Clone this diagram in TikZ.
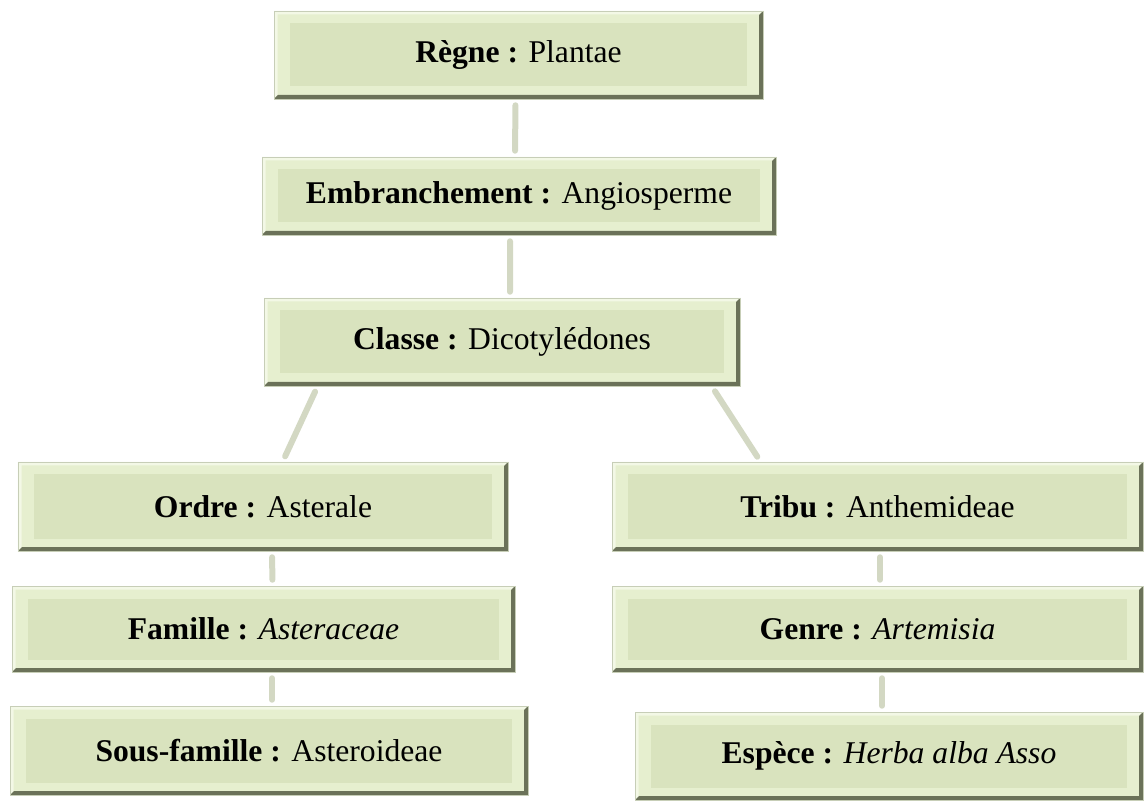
\documentclass[tikz,border=0pt]{standalone}
\usepackage{fontspec}
\setmainfont{Liberation Serif}
\usepackage{xcolor}
\usetikzlibrary{positioning, calc}
\definecolor{boxouter}{HTML}{E6EFCF}
\definecolor{boxinner}{HTML}{D9E3BE}
\definecolor{boxdark}{HTML}{6B7259}
\definecolor{boxlight}{HTML}{F3F8E6}
\definecolor{linkgray}{HTML}{D3D8C3}

\begin{document}
\begin{tikzpicture}[
    taxon/.style={fill=boxouter, draw=boxouter!70!gray, line width=0.3pt,
                  align=center, font=\fontsize{18}{21}\selectfont, inner sep=0pt,
                  path picture={
                    \fill[boxinner] ([shift={(0.32,-0.25)}]path picture bounding box.north west)
                      rectangle ([shift={(-0.32,0.25)}]path picture bounding box.south east);
                    \fill[boxlight] (path picture bounding box.south west) -- (path picture bounding box.north west)
                      -- (path picture bounding box.north east) -- ++(-0.07,-0.07)
                      -- ([shift={(0.07,-0.07)}]path picture bounding box.north west)
                      -- ([shift={(0.07,0.07)}]path picture bounding box.south west) -- cycle;
                    \fill[boxdark] (path picture bounding box.south west) -- (path picture bounding box.south east)
                      -- (path picture bounding box.north east) -- ++(-0.08,-0.08)
                      -- ([shift={(-0.08,0.08)}]path picture bounding box.south east)
                      -- ([shift={(0.08,0.08)}]path picture bounding box.south west) -- cycle;
                  }},
    link/.style={draw=linkgray, line width=0.12cm, line cap=round,
                 shorten <=0.12cm, shorten >=0.12cm}
]
    \useasboundingbox (0,0) rectangle (22.92,-16.06);

    % Top of the hierarchy
    \node[taxon, minimum width=9.78cm, minimum height=1.76cm] (regne) at (10.37,-1.1)
        {\textbf{Règne :} Plantae};
    \node[taxon, minimum width=10.28cm, minimum height=1.56cm] (embr) at (10.38,-3.92)
        {\textbf{Embranchement :} Angiosperme};
    \node[taxon, minimum width=9.52cm, minimum height=1.76cm] (classe) at (10.04,-6.84)
        {\textbf{Classe :} Dicotylédones};

    % Left branch
    \node[taxon, minimum width=9.8cm, minimum height=1.78cm] (ordre) at (5.26,-10.13)
        {\textbf{Ordre :} Asterale};
    \node[taxon, minimum width=10.06cm, minimum height=1.72cm] (famille) at (5.27,-12.58)
        {\textbf{Famille :} \textit{Asteraceae}};
    \node[taxon, minimum width=10.36cm, minimum height=1.78cm] (sousfam) at (5.38,-15.01)
        {\textbf{Sous-famille :} Asteroideae};

    % Right branch
    \node[taxon, minimum width=10.62cm, minimum height=1.78cm] (tribu) at (17.55,-10.13)
        {\textbf{Tribu :} Anthemideae};
    \node[taxon, minimum width=10.62cm, minimum height=1.72cm] (genre) at (17.55,-12.58)
        {\textbf{Genre :} \textit{Artemisia}};
    \node[taxon, minimum width=10.16cm, minimum height=1.76cm] (espece) at (17.78,-15.12)
        {\textbf{Espèce :} \textit{Herba alba Asso}};

    % Links
    \draw[link] ([xshift=-0.06cm]regne.south) -- ([xshift=-0.08cm]embr.north);
    \draw[link] ([xshift=-0.18cm]embr.south) -- ([xshift=0.16cm]classe.north);
    \draw[link] ($(classe.south west)!0.113!(classe.south east)$) -- ($(ordre.north west)!0.54!(ordre.north east)$);
    \draw[link] ($(classe.south west)!0.94!(classe.south east)$) -- ($(tribu.north west)!0.28!(tribu.north east)$);
    \draw[link] ([xshift=0.18cm]ordre.south) -- ([xshift=0.18cm]famille.north);
    \draw[link] ([xshift=0.17cm]famille.south) -- ([xshift=0.06cm]sousfam.north);
    \draw[link] ([xshift=0.05cm]tribu.south) -- ([xshift=0.05cm]genre.north);
    \draw[link] ([xshift=0.09cm]genre.south) -- ([xshift=-0.14cm]espece.north);
\end{tikzpicture}
\end{document}
